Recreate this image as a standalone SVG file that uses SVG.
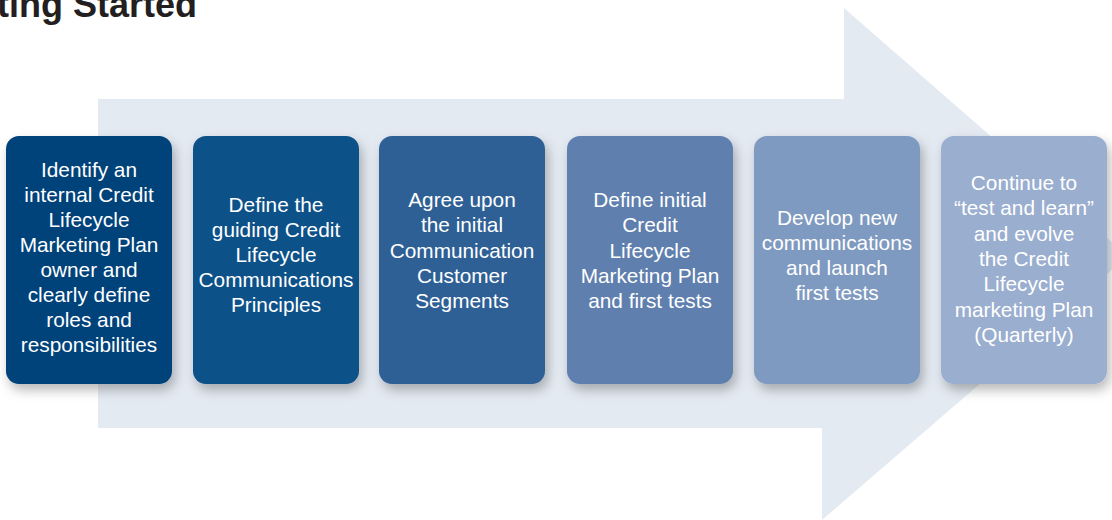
<svg xmlns="http://www.w3.org/2000/svg" width="1112" height="520" viewBox="0 0 1112 520">
<defs>
<filter id="sh" x="-20%" y="-20%" width="150%" height="150%">
<feDropShadow dx="3" dy="6" stdDeviation="6" flood-color="#000" flood-opacity="0.28"/>
</filter>
<style>
.box{filter:url(#sh);}
.t{font-family:"Liberation Sans",Arial,sans-serif;font-size:20.8px;fill:#fff;text-anchor:middle;}
.title{font-family:"Liberation Sans",Arial,sans-serif;font-size:36px;font-weight:bold;fill:#231f20;text-anchor:end;}
</style>
</defs>
<rect width="1112" height="520" fill="#fff"/>
<text class="title" x="197" y="17">Getting Started</text>
<polygon id="bigarrow" points="98,99 844,99 844,8 1128,256 822,520 822,428 98,428" fill="#e4eaf2"/>
<g id="connectors"></g>
<g id="n1">
<rect class="box" x="6" y="136" width="166" height="248" rx="13" fill="#01427a"/>
<text class="t"><tspan x="89" y="177">Identify an</tspan><tspan x="89" y="202">internal Credit</tspan><tspan x="89" y="227">Lifecycle</tspan><tspan x="89" y="252">Marketing Plan</tspan><tspan x="89" y="277">owner and</tspan><tspan x="89" y="302">clearly define</tspan><tspan x="89" y="327">roles and</tspan><tspan x="89" y="352">responsibilities</tspan></text>
</g>
<g id="n2">
<rect class="box" x="193" y="136" width="166" height="248" rx="13" fill="#0b5189"/>
<text class="t"><tspan x="276" y="212">Define the</tspan><tspan x="276" y="237">guiding Credit</tspan><tspan x="276" y="262">Lifecycle</tspan><tspan x="276" y="287">Communications</tspan><tspan x="276" y="312">Principles</tspan></text>
</g>
<g id="n3">
<rect class="box" x="379" y="136" width="166" height="248" rx="13" fill="#2f6196"/>
<text class="t"><tspan x="462" y="207">Agree upon</tspan><tspan x="462" y="232.3">the initial</tspan><tspan x="462" y="257.6">Communication</tspan><tspan x="462" y="282.9">Customer</tspan><tspan x="462" y="308.2">Segments</tspan></text>
</g>
<g id="n4">
<rect class="box" x="567" y="136" width="166" height="248" rx="13" fill="#5e80ae"/>
<text class="t"><tspan x="650" y="207">Define initial</tspan><tspan x="650" y="232.3">Credit</tspan><tspan x="650" y="257.6">Lifecycle</tspan><tspan x="650" y="282.9">Marketing Plan</tspan><tspan x="650" y="308.2">and first tests</tspan></text>
</g>
<g id="n5">
<rect class="box" x="754" y="136" width="166" height="248" rx="13" fill="#7f9ac0"/>
<text class="t"><tspan x="837" y="224.5">Develop new</tspan><tspan x="837" y="249.5">communications</tspan><tspan x="837" y="274.5">and launch</tspan><tspan x="837" y="299.5">first tests</tspan></text>
</g>
<g id="n6">
<rect class="box" x="941" y="136" width="166" height="248" rx="13" fill="#9aaecf"/>
<text class="t"><tspan x="1024" y="190">Continue to</tspan><tspan x="1024" y="215.3">“test and learn”</tspan><tspan x="1024" y="240.6">and evolve</tspan><tspan x="1024" y="265.9">the Credit</tspan><tspan x="1024" y="291.2">Lifecycle</tspan><tspan x="1024" y="316.5">marketing Plan</tspan><tspan x="1024" y="341.8">(Quarterly)</tspan></text>
</g>
</svg>
